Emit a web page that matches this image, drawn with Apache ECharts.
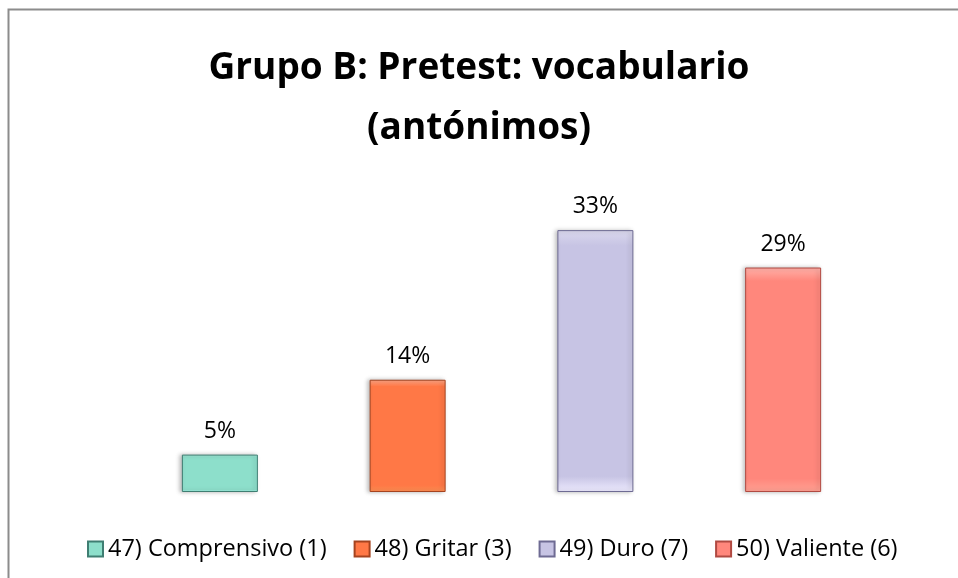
<!DOCTYPE html>
<html>
<head>
<meta charset="utf-8">
<script src="https://cdn.jsdelivr.net/npm/echarts@6/dist/echarts.min.js"></script>
<style>
  html, body { margin: 0; padding: 0; background: #fff; }
  #chart { width: 958px; height: 578px; }
</style>
</head>
<body>
<div id="chart"></div>
<script type="text/javascript">
// categories / values (share of 21 students)
var categories = ['47) Comprensivo (1)', '48) Gritar (3)', '49) Duro (7)', '50) Valiente (6)'];
var values = [4.76, 14.29, 33.33, 28.57];
var colors = ['#8ddfcb', '#ff7846', '#c7c4e4', '#ff877c'];
var edges = ['#3f7e72', '#a5431f', '#6e6b93', '#b04a42'];

var myChart = echarts.init(document.getElementById('chart'));

var series = [];
for (var i = 0; i < categories.length; i++) {
    var data = [];
    for (var j = 0; j < categories.length; j++) {
        data.push(j === i ? values[i] : null);
    }
    series.push({
        name: categories[i],
        type: 'bar',
        stack: 'one',
        barWidth: 76,
        data: data,
        itemStyle: {
            color: {
                type: 'linear', x: 0, y: 0, x2: 0, y2: 1,
                colorStops: [
                    {offset: 0, color: echarts.color.lift(colors[i], 0.35)},
                    {offset: 0.06, color: colors[i]},
                    {offset: 0.94, color: colors[i]},
                    {offset: 1, color: echarts.color.lift(colors[i], -0.2)}
                ]
            },
            borderColor: edges[i],
            borderWidth: 1,
            shadowColor: 'rgba(0,0,0,0.25)',
            shadowBlur: 4,
            shadowOffsetX: -2,
            shadowOffsetY: 0
        },
        label: {
            show: true,
            position: 'top',
            distance: 12,
            color: '#000',
            fontSize: 23,
            fontFamily: 'Open Sans',
            formatter: function (p) { return Math.round(p.value) + '%'; }
        }
    });
}

option = {
    animation: false,
    backgroundColor: '#fff',
    graphic: [{
        type: 'rect',
        shape: {x: 8.5, y: 9.5, width: 960, height: 580},
        style: {fill: null, stroke: '#8c8c8c', lineWidth: 2}
    }],
    title: {
        text: 'Grupo B: Pretest: vocabulario\n(antónimos)',
        left: 'center',
        top: 33,
        textStyle: {
            fontFamily: 'Open Sans',
            fontWeight: 'bold',
            fontSize: 37,
            lineHeight: 60,
            color: '#000'
        }
    },
    legend: {
        bottom: 12,
        left: 82,
        itemWidth: 15,
        itemHeight: 15,
        itemGap: 27,
        icon: 'rect',
        textStyle: {fontFamily: 'Open Sans', fontSize: 23.5, color: '#000'},
        data: categories
    },
    grid: {left: 126, right: 81, top: 217, bottom: 86},
    xAxis: {
        type: 'category',
        data: categories,
        axisLine: {show: false},
        axisTick: {show: false},
        axisLabel: {show: false}
    },
    yAxis: {
        type: 'value',
        min: 0,
        max: 35,
        show: false,
        splitLine: {show: false}
    },
    series: series
};
myChart.setOption(option);
</script>
</body>
</html>
